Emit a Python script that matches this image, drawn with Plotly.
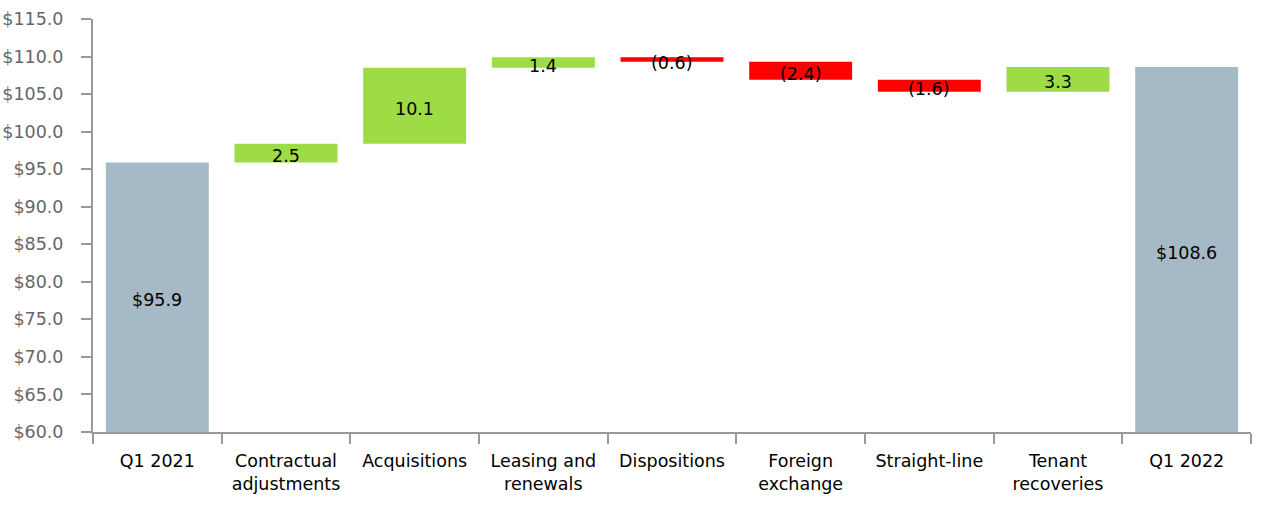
import plotly.graph_objects as go

categories = ["Q1 2021", "Contractual<br>adjustments", "Acquisitions", "Leasing and<br>renewals",
              "Dispositions", "Foreign<br>exchange", "Straight-line", "Tenant<br>recoveries", "Q1 2022"]
changes = [95.9, 2.5, 10.1, 1.4, -0.6, -2.4, -1.6, 3.3, 108.6]
kinds = ["total", "delta", "delta", "delta", "delta", "delta", "delta", "delta", "total"]
y_ticks = [60, 65, 70, 75, 80, 85, 90, 95, 100, 105, 110, 115]

TOTAL_C = "#a5b9c6"
UP_C = "#9ddc45"
DOWN_C = "#ff0000"
FS = 17.5

bases, heights, colors, labels, mids = [], [], [], [], []
running = 0.0
for v, k in zip(changes, kinds):
    if k == "total":
        base, h, c = 0.0, v, TOTAL_C
        running = v
        lab = f"${v:.1f}"
    else:
        if v >= 0:
            base, h, c = running, v, UP_C
            lab = f"{v:.1f}"
        else:
            base, h, c = running + v, -v, DOWN_C
            lab = f"({-v:.1f})"
        running += v
    bases.append(base); heights.append(h); colors.append(c); labels.append(lab)
    mid = base + h / 2
    if k == "total":
        mid = (max(base, 60) + base + h) / 2
    mids.append(mid)

fig = go.Figure()
fig.add_trace(go.Bar(x=categories, y=heights, base=bases, marker=dict(color=colors, line=dict(width=0)),
                     width=0.8, hoverinfo="skip", showlegend=False))

for cat, m, lab in zip(categories, mids, labels):
    fig.add_annotation(x=cat, y=m, text=lab, showarrow=False, yshift=-3,
                       font=dict(size=FS, color="#000000", family="DejaVu Sans"))

fig.update_layout(
    width=1270, height=514,
    margin=dict(l=93, r=19, t=19, b=82),
    paper_bgcolor="white", plot_bgcolor="white",
    font=dict(family="DejaVu Sans", size=FS, color="#000000"),
    xaxis=dict(type="category", showgrid=False, showline=True, linecolor="#999999", linewidth=2,
               ticks="outside", tickson="boundaries", ticklen=10, tickcolor="#999999", tickwidth=2,
               tickfont=dict(size=FS, color="#000000"), zeroline=False, ticklabelstandoff=12,
               automargin=False),
    yaxis=dict(range=[60, 115], tickvals=y_ticks, tickformat="$.1f", showgrid=False, showline=True,
               linecolor="#999999", linewidth=2, ticks="outside", ticklen=10, tickcolor="#999999",
               tickwidth=2, tickfont=dict(size=FS, color="#666666"), zeroline=False,
               ticklabelstandoff=14, automargin=False),
    bargap=0.2,
)

fig.write_html("out.html")
